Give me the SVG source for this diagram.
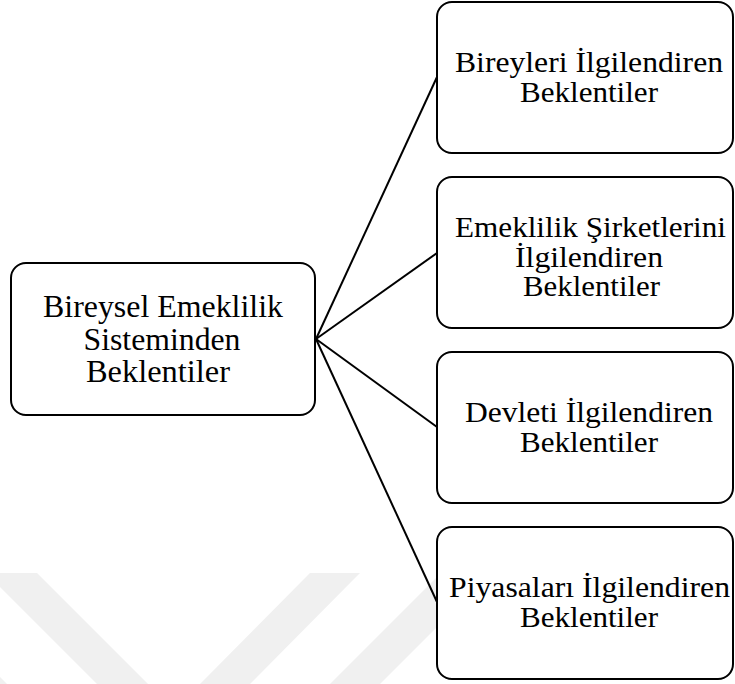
<svg xmlns="http://www.w3.org/2000/svg" width="735" height="684" viewBox="0 0 735 684">
<style>
.box{fill:#ffffff;stroke:#000000;stroke-width:2}
.wm{fill:#f0f0f0;stroke:none}
text{font-family:"Liberation Serif","Times New Roman",serif;font-size:29.5px;fill:#000000;text-anchor:middle}
.tl{font-size:31px}
.con line{stroke:#000000;stroke-width:2}
</style>
<rect width="735" height="684" fill="#ffffff"/>
<g id="watermark">
<polygon class="wm" points="0,573 37,573 148,684 97,684 0,587"/>
<polygon class="wm" points="0,677 7,684 0,684"/>
<polygon class="wm" points="310,573 360,573 250,684 200,684"/>
<polygon class="wm" points="441,573 491,573 380,684 330,684"/>
</g>
<g id="connectors" class="con">
<line x1="316" y1="339" x2="437" y2="77"/>
<line x1="316" y1="339" x2="437" y2="253"/>
<line x1="316" y1="339" x2="437" y2="427"/>
<line x1="316" y1="339" x2="437" y2="602"/>
</g>
<g id="root">
<rect class="box" x="11" y="263" width="304" height="152" rx="15"/>
<text class="tl" x="163" y="316.7" textLength="240" lengthAdjust="spacingAndGlyphs">Bireysel Emeklilik</text>
<text class="tl" x="162" y="349.5" textLength="157" lengthAdjust="spacingAndGlyphs">Sisteminden</text>
<text class="tl" x="158" y="381.5" textLength="144" lengthAdjust="spacingAndGlyphs">Beklentiler</text>
</g>
<g id="n1">
<rect class="box" x="437" y="2" width="296" height="151" rx="15"/>
<text x="589" y="71.5" textLength="268" lengthAdjust="spacingAndGlyphs">Bireyleri İlgilendiren</text>
<text x="589" y="101.5" textLength="138" lengthAdjust="spacingAndGlyphs">Beklentiler</text>
</g>
<g id="n2">
<rect class="box" x="437" y="177" width="296" height="151" rx="15"/>
<text x="590.5" y="236.5" textLength="271" lengthAdjust="spacingAndGlyphs">Emeklilik Şirketlerini</text>
<text x="589" y="266.5" textLength="148" lengthAdjust="spacingAndGlyphs">İlgilendiren</text>
<text x="591.5" y="296" textLength="137" lengthAdjust="spacingAndGlyphs">Beklentiler</text>
</g>
<g id="n3">
<rect class="box" x="437" y="352" width="296" height="151" rx="15"/>
<text x="589" y="421.5" textLength="248" lengthAdjust="spacingAndGlyphs">Devleti İlgilendiren</text>
<text x="589" y="451.5" textLength="138" lengthAdjust="spacingAndGlyphs">Beklentiler</text>
</g>
<g id="n4">
<rect class="box" x="437" y="527" width="296" height="152" rx="15"/>
<text x="589.5" y="596.7" textLength="281" lengthAdjust="spacingAndGlyphs">Piyasaları İlgilendiren</text>
<text x="589" y="626.7" textLength="138" lengthAdjust="spacingAndGlyphs">Beklentiler</text>
</g>
</svg>
